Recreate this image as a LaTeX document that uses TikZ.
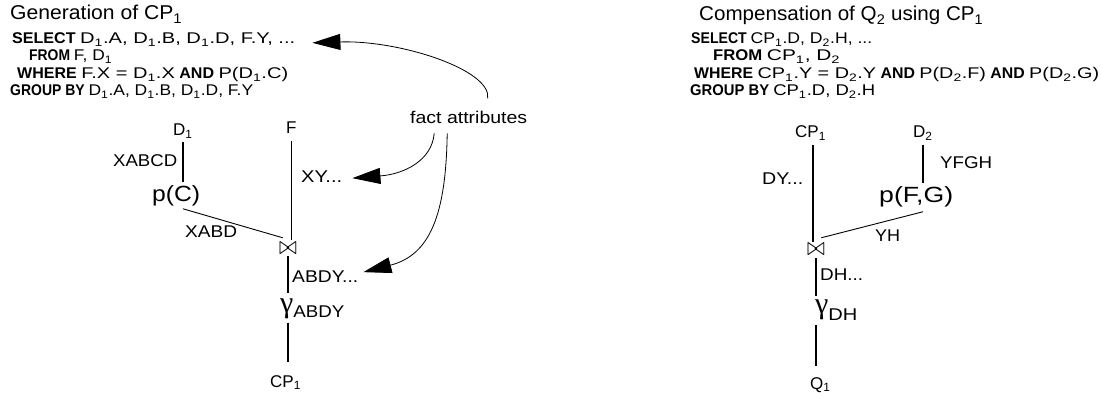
\documentclass[tikz,border=0pt]{standalone}
\usepackage{fontspec}
\setmainfont{Liberation Sans}
\newfontfamily\gk{Liberation Serif}
\usepackage{graphicx}
\usetikzlibrary{arrows.meta,calc}
\newcommand{\fitw}[2]{\resizebox{#1pt}{\height}{#2}}
\newcommand{\rg}[1]{\scalebox{1.25}[1]{#1}}
\newcommand{\sbs}[1]{\textsubscript{#1}}
\newcommand{\fs}[1]{\fontsize{#1}{#1}\selectfont}
\begin{document}
\begin{tikzpicture}[x=1pt,y=-1pt,
  txt/.style={inner sep=0pt, anchor=base west},
  sql/.style={txt, font=\fs{15.5}},
  lab/.style={txt, font=\fs{17}},
  joinop/.style={inner sep=0pt},
  edge/.style={line width=1.7pt},
  link/.style={line width=0.9pt},
  callout/.style={line width=0.8pt, -{Triangle[length=28pt,width=16pt]}},
]
\useasboundingbox (0,0) rectangle (1101,393);

% ---- left: generation of CP1
\node[txt, font=\fs{20}] (t1) at (10,20) {\fitw{172}{Generation of CP\sbs{1}}};
\node[sql] (s1) at (12,44) {\fitw{283}{\textbf{SELECT} \rg{D\sbs{1}.A, D\sbs{1}.B, D\sbs{1}.D, F.Y, ...}}};
\node[sql] (f1) at (29,61) {\fitw{83}{\textbf{FROM} \rg{F, D\sbs{1}}}};
\node[sql] (w1) at (17,79) {\fitw{271}{\textbf{WHERE} \rg{F.X = D\sbs{1}.X} \textbf{AND} \rg{P(D\sbs{1}.C)}}};
\node[sql] (g1) at (10,96) {\fitw{243}{\textbf{GROUP BY} \rg{D\sbs{1}.A, D\sbs{1}.B, D\sbs{1}.D, F.Y}}};

\node[lab] (D1) at (173,136) {D\sbs{1}};
\node[lab] (F) at (286,134) {F};
\node[lab] (xabcd) at (113,167) {\fitw{64}{XABCD}};
\node[txt, font=\fs{22}] (pC) at (152,201) {\fitw{48}{p(C)}};
\node[lab] (xabd) at (185,237) {\fitw{52}{XABD}};
\node[lab] (xy) at (301,183) {\fitw{41}{XY...}};
\node[joinop] (J1) at (288,248) {\resizebox*{18pt}{12pt}{$\bowtie$}};
\node[lab] (abdy) at (292,282) {\fitw{66}{ABDY...}};
\node[txt] (G1) at (280,312) {{\gk\fs{30}γ}\raisebox{-5pt}{\fs{17}\fitw{51}{ABDY}}};
\node[lab] (CPb) at (270,387) {CP\sbs{1}};
\node[lab] (fact) at (410,124) {\fitw{117}{fact attributes}};

\draw[edge, shorten <=3pt, shorten >=3pt] (D1.south) -- (D1.south |- pC.north);
\draw[edge, shorten <=7pt, shorten >=2pt] (F.south) -- (F.south |- J1.north);
\draw[link] ($(pC.south -| D1.south)+(0,3)$) -- ($(J1.north west)+(4,-4)$);
\draw[edge, shorten <=2pt, shorten >=5pt] (J1.south) -- (J1.south |- G1.north);
\draw[edge, shorten <=4pt, shorten >=13pt] (J1.south |- G1.south) -- (J1.south |- CPb.north);

\draw[callout] ([xshift=19pt,yshift=13pt]fact.north) .. controls (492,70) and (400,40) .. ([xshift=17pt,yshift=-3pt]s1.east);
\draw[callout] ([xshift=-34.5pt,yshift=-9pt]fact.south) .. controls (432,160) and (405,174) .. ([xshift=10pt,yshift=-1pt]xy.east);
\draw[callout] ([xshift=-21.5pt,yshift=-9pt]fact.south) .. controls (446,215) and (430,255) .. ([xshift=5pt,yshift=4pt]abdy.east);

% ---- right: compensation of Q2
\node[txt, font=\fs{20}] (t2) at (699,21) {\fitw{284}{Compensation of Q\sbs{2} using CP\sbs{1}}};
\node[sql] (s2) at (691,44) {\fitw{181}{\textbf{SELECT} \rg{CP\sbs{1}.D, D\sbs{2}.H, ...}}};
\node[sql] (f2) at (713,61) {\fitw{127}{\textbf{FROM} \rg{CP\sbs{1}, D\sbs{2}}}};
\node[sql] (w2) at (694,79) {\fitw{405}{\textbf{WHERE} \rg{CP\sbs{1}.Y = D\sbs{2}.Y} \textbf{AND} \rg{P(D\sbs{2}.F)} \textbf{AND} \rg{P(D\sbs{2}.G)}}};
\node[sql] (g2) at (690,96) {\fitw{185}{\textbf{GROUP BY} \rg{CP\sbs{1}.D, D\sbs{2}.H}}};

\node[lab] (CPt) at (795,138) {CP\sbs{1}};
\node[lab] (D2) at (913,138) {D\sbs{2}};
\node[lab] (dy) at (762,185) {\fitw{41}{DY...}};
\node[lab] (yfgh) at (940,169) {\fitw{52}{YFGH}};
\node[txt, font=\fs{22}] (pFG) at (879,202) {\fitw{74}{p(F,G)}};
\node[lab] (yh) at (875,241) {\fitw{25}{YH}};
\node[joinop] (J2) at (816,249) {\resizebox*{18pt}{12pt}{$\bowtie$}};
\node[lab] (dh) at (820,280) {\fitw{43}{DH...}};
\node[txt] (G2) at (815,313) {{\gk\fs{30}γ}\raisebox{-7pt}{\fs{17}\fitw{29}{DH}}};
\node[lab] (Q1) at (810,389) {Q\sbs{1}};

\draw[edge, shorten <=4pt, shorten >=1pt] ($(J2.north |- CPt.south)+(-3,0)$) -- ($(J2.north)+(-3,0)$);
\draw[edge, shorten <=4pt, shorten >=3pt] (D2.south) -- (D2.south |- pFG.north);
\draw[link] ($(pFG.south -| D2.south)+(0,5)$) -- ($(J2.north east)+(-4,-5)$);
\draw[edge, shorten <=3pt, shorten >=3pt] (J2.south) -- (J2.south |- G2.north);
\draw[edge, shorten <=5pt, shorten >=11pt] (J2.south |- G2.south) -- (J2.south |- Q1.north);
\end{tikzpicture}
\end{document}
